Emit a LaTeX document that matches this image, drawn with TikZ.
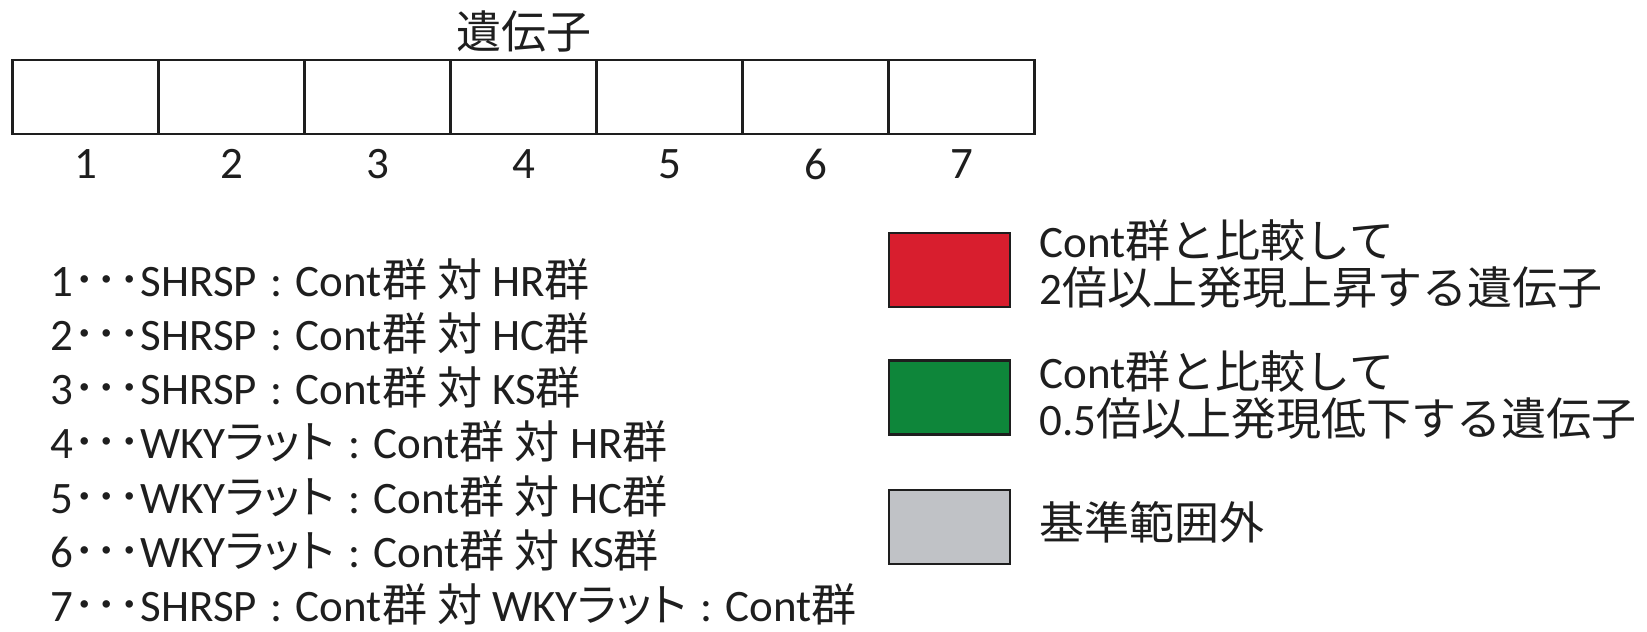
\documentclass[tikz,border=0pt]{standalone}
\usepackage{fontspec}
\setmainfont{Carlito}
\newfontfamily\jp{Noto Sans CJK JP}
\newfontfamily\jpp[RawFeature=+palt]{Noto Sans CJK JP}
\usetikzlibrary{positioning}
\definecolor{upred}{RGB}{216,30,46}
\definecolor{downgreen}{RGB}{14,134,58}
\definecolor{outgray}{RGB}{192,194,198}
\definecolor{ink}{RGB}{30,30,30}
\newcommand{\sep}{\hspace{0.3em}:\hspace{0.3em}}
\newcommand{\rat}{{\jpp ラット}}

\begin{document}
\begin{tikzpicture}[x=1pt, y=-1pt,
  every node/.style = {inner sep=0pt, text=ink,
    font=\fontsize{45}{47}\selectfont},
  cell/.style = {draw=ink, line width=2.5pt,
    minimum width=146pt, minimum height=74pt},
  swatch/.style = {draw=ink, line width=2.5pt,
    minimum width=121pt, minimum height=74pt},
  note/.style = {align=left}]
  \useasboundingbox (0,0) rectangle (1647,632);
  % gene columns
  \foreach \i in {1,...,7} {
    \node [cell] (c\i) at ({12.6+146*(\i-0.5)}, 97) {};
    \node [below=14pt of c\i] (n\i) {\i};
  }
  \node [above=6pt of c4] (title) {\jp 遺伝子};
  % comparisons
  \foreach \t [count=\i] in {
      {1{\jp ･･･}SHRSP\sep Cont{\jp 群 対 }HR{\jp 群}},
      {2{\jp ･･･}SHRSP\sep Cont{\jp 群 対 }HC{\jp 群}},
      {3{\jp ･･･}SHRSP\sep Cont{\jp 群 対 }KS{\jp 群}},
      {4{\jp ･･･}WKY\rat\sep Cont{\jp 群 対 }HR{\jp 群}},
      {5{\jp ･･･}WKY\rat\sep Cont{\jp 群 対 }HC{\jp 群}},
      {6{\jp ･･･}WKY\rat\sep Cont{\jp 群 対 }KS{\jp 群}},
      {7{\jp ･･･}SHRSP\sep Cont{\jp 群 対 }WKY\rat\sep Cont{\jp 群}}}
    \node [anchor=base west] (l\i) at (50, {296+54.25*(\i-1)}) {\t};
  % legend
  \node [swatch, fill=upred] (up) at (949.5, 270) {};
  \node [swatch, fill=downgreen, below=51pt of up] (down) {};
  \node [swatch, fill=outgray, below=53pt of down] (out) {};
  \node [note, right=28pt of up, yshift=6pt] (uptext)
    {Cont{\jp 群と比較して}\\2{\jp 倍以上発現上昇する遺伝子}};
  \node [note, right=28pt of down, yshift=2pt] (downtext)
    {Cont{\jp 群と比較して}\\0.5{\jp 倍以上発現低下する遺伝子}};
  \node [note, right=28pt of out, yshift=5pt] (outtext) {\jp 基準範囲外};
\end{tikzpicture}
\end{document}
